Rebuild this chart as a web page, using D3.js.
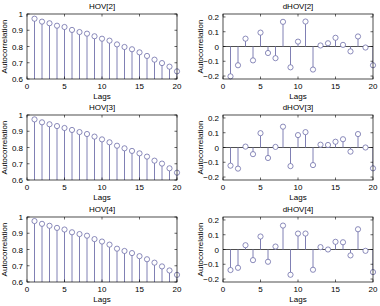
<!DOCTYPE html>
<html>
<head>
<meta charset="utf-8">
<script src="https://cdn.jsdelivr.net/npm/d3@7"></script>
<style>
  body { margin: 0; background: #fff; }
  svg { display: block; font-family: "Liberation Sans", Arial, sans-serif; }
  .tick-label { font-size: 8px; fill: #000; }
  .title, .axis-label { font-size: 8px; fill: #000; }
</style>
</head>
<body>
<div id="chart"></div>
<script>
// lags 1..20
var lags = d3.range(1, 21);

var hov2 = [0.971, 0.953, 0.943, 0.928, 0.920, 0.902, 0.889, 0.879, 0.863, 0.848,
            0.836, 0.813, 0.797, 0.783, 0.764, 0.742, 0.719, 0.698, 0.676, 0.647];
var hov3 = [0.973, 0.955, 0.943, 0.932, 0.920, 0.908, 0.895, 0.883, 0.867, 0.850,
            0.832, 0.811, 0.795, 0.779, 0.764, 0.744, 0.719, 0.701, 0.672, 0.645];
var hov4 = [0.975, 0.958, 0.946, 0.933, 0.923, 0.906, 0.895, 0.885, 0.864, 0.849,
            0.830, 0.805, 0.791, 0.778, 0.759, 0.740, 0.719, 0.696, 0.671, 0.644];

var dhov2 = [-0.202, -0.127, 0.053, -0.094, 0.094, -0.044, -0.079, 0.167, -0.141, 0.033,
             0.169, -0.156, 0.007, 0.022, 0.059, 0.011, -0.033, 0.068, -0.007, -0.127];
var dhov3 = [-0.123, -0.143, 0.006, -0.045, 0.097, -0.071, 0.004, 0.141, -0.126, 0.084,
             0.104, -0.119, 0.019, 0.017, 0.039, 0.056, -0.028, 0.091, 0.000, -0.141];
var dhov4 = [-0.139, -0.124, 0.029, -0.072, 0.088, -0.083, 0.020, 0.162, -0.171, 0.108,
             0.108, -0.137, 0.016, 0.000, 0.052, 0.049, -0.040, 0.137, -0.009, -0.153];

var xTicks = [0, 5, 10, 15, 20];
var hovTicks = [0.6, 0.7, 0.8, 0.9, 1];
var dhovTicks = [-0.2, -0.1, 0, 0.1, 0.2];

var panels = [
  { title: "HOV[2]",  values: hov2,  col: 0, row: 0, domain: [0.6, 1],      ticks: hovTicks,  fmt: d3.format("") },
  { title: "dHOV[2]", values: dhov2, col: 1, row: 0, domain: [-0.22, 0.22], ticks: dhovTicks, fmt: d3.format("") },
  { title: "HOV[3]",  values: hov3,  col: 0, row: 1, domain: [0.6, 1],      ticks: hovTicks,  fmt: d3.format("") },
  { title: "dHOV[3]", values: dhov3, col: 1, row: 1, domain: [-0.22, 0.22], ticks: dhovTicks, fmt: d3.format("") },
  { title: "HOV[4]",  values: hov4,  col: 0, row: 2, domain: [0.6, 1],      ticks: hovTicks,  fmt: d3.format("") },
  { title: "dHOV[4]", values: dhov4, col: 1, row: 2, domain: [-0.22, 0.22], ticks: dhovTicks, fmt: d3.format("") }
];

var colLeft = [27, 223];
var rowTop = [14, 115, 217];
var plotW = 150, plotH = 65;
var stemColor = "#8080b4", markColor = "#6e6eaa";

var svg = d3.select("#chart").append("svg")
  .attr("width", 380)
  .attr("height", 306);

panels.forEach(function(p){
  var g = svg.append("g")
    .attr("transform", "translate(" + colLeft[p.col] + "," + rowTop[p.row] + ")");

  var x = d3.scaleLinear().domain([0, 20]).range([0, plotW]);
  var y = d3.scaleLinear().domain(p.domain).range([plotH, 0]);

  var clipId = "clip" + p.col + p.row;
  g.append("clipPath").attr("id", clipId)
    .append("rect").attr("width", plotW).attr("height", plotH);

  var plot = g.append("g").attr("clip-path", "url(#" + clipId + ")");

  // baseline at zero
  if (p.domain[0] < 0) {
    plot.append("line")
      .attr("x1", 0).attr("x2", plotW)
      .attr("y1", y(0)).attr("y2", y(0))
      .attr("stroke", "#222").attr("stroke-width", 0.8);
  }

  // stems
  plot.selectAll(".stem")
    .data(p.values)
    .enter().append("line")
    .attr("class", "stem")
    .attr("x1", function(d, i){ return x(lags[i]); })
    .attr("x2", function(d, i){ return x(lags[i]); })
    .attr("y1", y(0))
    .attr("y2", function(d){ return y(d); })
    .attr("stroke", stemColor)
    .attr("stroke-width", 1);

  // markers
  g.selectAll(".mark")
    .data(p.values)
    .enter().append("circle")
    .attr("class", "mark")
    .attr("cx", function(d, i){ return x(lags[i]); })
    .attr("cy", function(d){ return y(d); })
    .attr("r", 2.6)
    .attr("fill", "#fff")
    .attr("stroke", markColor)
    .attr("stroke-width", 0.8);

  // inward ticks on all four sides
  var tk = 2.5;
  xTicks.forEach(function(t){
    g.append("line").attr("x1", x(t)).attr("x2", x(t)).attr("y1", plotH).attr("y2", plotH - tk)
      .attr("stroke", "#000").attr("stroke-width", 0.6);
    g.append("line").attr("x1", x(t)).attr("x2", x(t)).attr("y1", 0).attr("y2", tk)
      .attr("stroke", "#000").attr("stroke-width", 0.6);
    g.append("text").attr("class", "tick-label")
      .attr("x", x(t)).attr("y", plotH + 10)
      .attr("text-anchor", "middle")
      .text(t);
  });
  p.ticks.forEach(function(t){
    g.append("line").attr("x1", 0).attr("x2", tk).attr("y1", y(t)).attr("y2", y(t))
      .attr("stroke", "#000").attr("stroke-width", 0.6);
    g.append("line").attr("x1", plotW).attr("x2", plotW - tk).attr("y1", y(t)).attr("y2", y(t))
      .attr("stroke", "#000").attr("stroke-width", 0.6);
    g.append("text").attr("class", "tick-label")
      .attr("x", -4).attr("y", y(t) + 3)
      .attr("text-anchor", "end")
      .text(p.fmt(t));
  });

  // box
  g.append("rect")
    .attr("width", plotW).attr("height", plotH)
    .attr("fill", "none").attr("stroke", "#000").attr("stroke-width", 0.7);

  // labels
  g.append("text").attr("class", "title")
    .attr("text-anchor", "middle")
    .attr("x", plotW / 2).attr("y", -5)
    .text(p.title);

  g.append("text").attr("class", "axis-label")
    .attr("text-anchor", "middle")
    .attr("x", plotW / 2).attr("y", plotH + 20)
    .text("Lags");

  g.append("text").attr("class", "axis-label")
    .attr("text-anchor", "middle")
    .attr("transform", "translate(" + (p.col === 0 ? -20 : -20) + "," + (plotH / 2) + ")rotate(-90)")
    .text("Autocorrelation");
});
</script>
</body>
</html>
